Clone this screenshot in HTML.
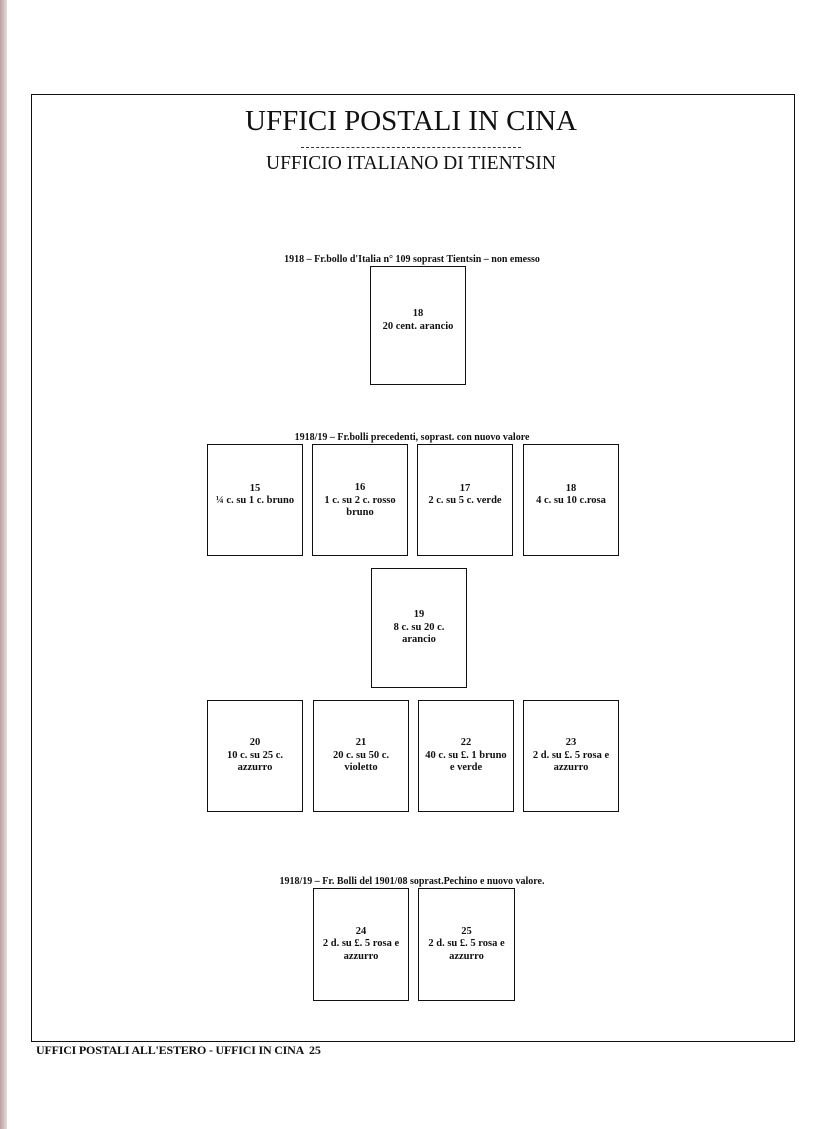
<!DOCTYPE html>
<html><head><meta charset="utf-8"><style>
body{margin:0;width:838px;height:1129px;background:#fff;position:relative;overflow:hidden;font-family:"Liberation Serif",serif;color:#111}
.edge{position:absolute;left:0;top:0;width:7px;height:1129px;background:linear-gradient(90deg,#b9a2a0,#e8dada)}
.frame{position:absolute;left:31px;top:94px;width:762px;height:946px;border:1.5px solid #111}
.t{position:absolute;white-space:nowrap;text-align:center}
.b{position:absolute;border:1.3px solid #111;box-sizing:border-box;font-size:10.5px;text-align:center;line-height:12.5px;display:flex;flex-direction:column;justify-content:center;padding-bottom:10px;font-weight:bold;-webkit-text-stroke:0}
.cap{font-size:10px;font-weight:bold}
</style></head><body>
<div class="edge"></div>
<div class="frame"></div>
<div class="t" style="left:0;width:822px;top:105px;font-size:29px">UFFICI POSTALI IN CINA</div>
<div style="position:absolute;left:301px;top:147px;width:220px;border-top:1px dashed #333"></div>
<div class="t" style="left:0;width:822px;top:153px;font-size:19.5px">UFFICIO ITALIANO DI TIENTSIN</div>
<div class="t cap" style="left:0;width:824px;top:254px">1918 – Fr.bollo d'Italia n° 109 soprast Tientsin – non emesso</div>
<div class="b" style="left:370px;top:266px;width:96px;height:119px">18<br>20 cent. arancio</div>
<div class="t cap" style="left:0;width:824px;top:432px">1918/19 – Fr.bolli precedenti, soprast. con nuovo valore</div>
<div class="b" style="left:207px;top:444px;width:96px;height:112px">15<br>¼ c. su 1 c. bruno</div>
<div class="b" style="left:312px;top:444px;width:96px;height:112px;padding-top:12px">16<br>1 c. su 2 c. rosso<br>bruno</div>
<div class="b" style="left:417px;top:444px;width:96px;height:112px">17<br>2 c. su 5 c. verde</div>
<div class="b" style="left:523px;top:444px;width:96px;height:112px">18<br>4 c. su 10 c.rosa</div>
<div class="b" style="left:371px;top:568px;width:96px;height:120px;padding-top:10px">19<br>8 c. su 20 c.<br>arancio</div>
<div class="b" style="left:207px;top:700px;width:96px;height:112px;padding-top:10px">20<br>10 c. su 25 c.<br>azzurro</div>
<div class="b" style="left:313px;top:700px;width:96px;height:112px;padding-top:10px">21<br>20 c. su 50 c.<br>violetto</div>
<div class="b" style="left:418px;top:700px;width:96px;height:112px;padding-top:10px">22<br>40 c. su £. 1 bruno<br>e verde</div>
<div class="b" style="left:523px;top:700px;width:96px;height:112px;padding-top:10px">23<br>2 d. su £. 5 rosa e<br>azzurro</div>
<div class="t cap" style="left:0;width:824px;top:876px">1918/19 – Fr. Bolli del 1901/08 soprast.Pechino e nuovo valore.</div>
<div class="b" style="left:313px;top:888px;width:96px;height:113px;padding-top:10px">24<br>2 d. su £. 5 rosa e<br>azzurro</div>
<div class="b" style="left:418px;top:888px;width:97px;height:113px;padding-top:10px">25<br>2 d. su £. 5 rosa e<br>azzurro</div>
<div class="t" style="left:36px;top:1043px;font-size:12px;font-weight:bold;letter-spacing:-0.2px">UFFICI POSTALI ALL'ESTERO - UFFICI IN CINA &nbsp;25</div>
</body></html>
